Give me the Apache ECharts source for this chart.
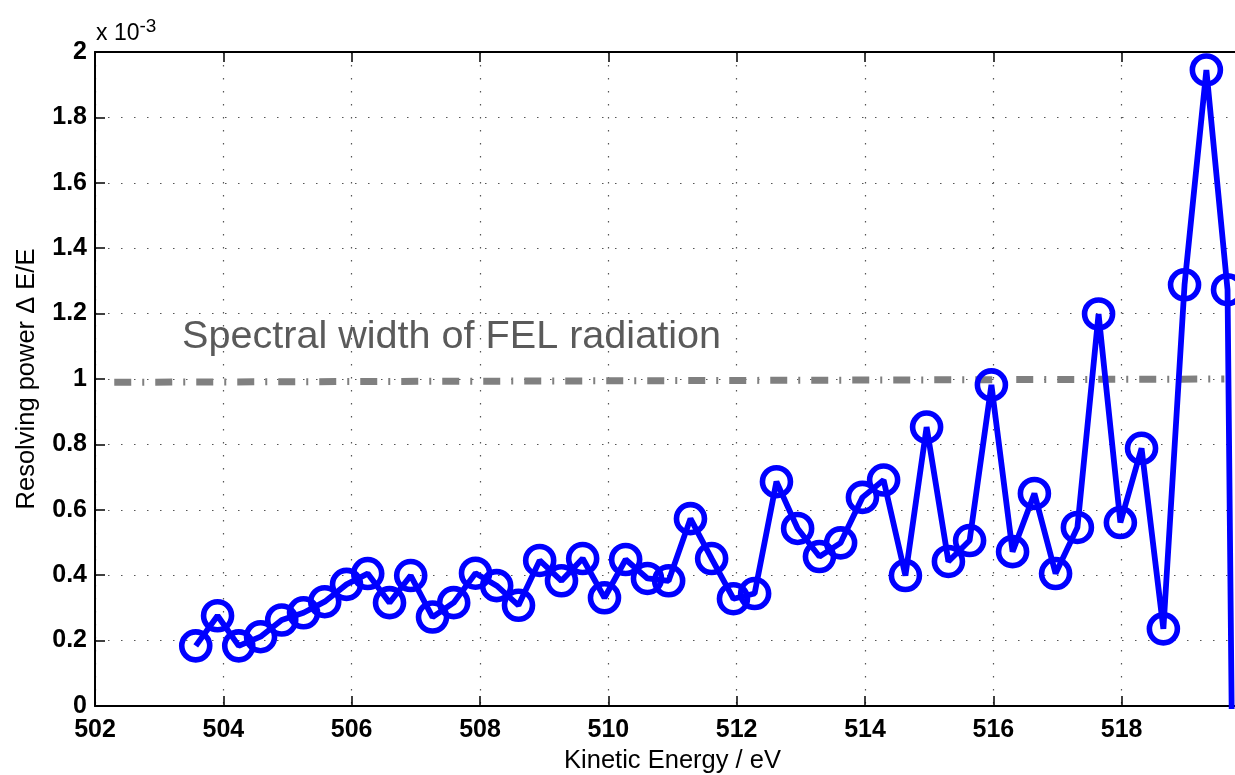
<!DOCTYPE html>
<html>
<head>
<meta charset="utf-8">
<script src="https://cdn.jsdelivr.net/npm/echarts@6/dist/echarts.min.js"></script>
<style>
  html, body { margin: 0; padding: 0; background: #fff; }
  #main { width: 1235px; height: 775px; }
</style>
</head>
<body>
<div id="main"></div>
<script>
// kinetic energy (eV) of each measured point
const energies = [
  503.57, 503.91, 504.24, 504.58, 504.91, 505.25, 505.58, 505.92, 506.25, 506.59,
  506.92, 507.26, 507.59, 507.93, 508.26, 508.60, 508.93, 509.27, 509.60, 509.94,
  510.27, 510.61, 510.94, 511.28, 511.61, 511.95, 512.28, 512.62, 512.95, 513.29,
  513.62, 513.96, 514.29, 514.63, 514.96, 515.30, 515.63, 515.97, 516.30, 516.64,
  516.97, 517.31, 517.64, 517.98, 518.31, 518.65, 518.98, 519.32, 519.65, 519.99
];
// resolving power dE/E, in units of 1e-3
const resolving = [
  0.184, 0.276, 0.184, 0.212, 0.263, 0.285, 0.319, 0.372, 0.405, 0.316,
  0.399, 0.272, 0.316, 0.406, 0.368, 0.308, 0.445, 0.383, 0.451, 0.331,
  0.448, 0.390, 0.383, 0.573, 0.451, 0.328, 0.344, 0.686, 0.543, 0.457,
  0.499, 0.638, 0.691, 0.399, 0.853, 0.442, 0.506, 0.982, 0.472, 0.650,
  0.405, 0.546, 1.199, 0.561, 0.788, 0.236, 1.288, 1.945, 1.273, -5.5
];
// spectral width of the FEL radiation (reference line)
const felX = [502.3, 519.6];
const felY = [0.99, 1.0];

const xTicks = { min: 502, max: 520, interval: 2 };
const yTicks = { min: 0, max: 2, interval: 0.2 };

const font = 'Liberation Sans, Arial, sans-serif';
const dotted = { color: '#555', width: 1.2, type: [1.5, 11.5] };

const chart = echarts.init(document.getElementById('main'));

const option = {
  animation: false,
  backgroundColor: '#fff',
  grid: { left: 95, top: 52, width: 1155, height: 654, outerBoundsMode: 'none', containLabel: false },
  xAxis: [
    {
      type: 'value',
      min: xTicks.min, max: xTicks.max, interval: xTicks.interval,
      name: 'Kinetic Energy / eV',
      nameLocation: 'middle',
      nameGap: 40,
      nameTextStyle: { fontFamily: font, fontSize: 25.5, color: '#000' },
      axisLine: { show: true, onZero: false, lineStyle: { color: '#000', width: 2 } },
      axisTick: { show: true, inside: true, length: 10, lineStyle: { color: '#000', width: 1.5 } },
      axisLabel: { fontFamily: font, fontSize: 25, fontWeight: 'bold', color: '#000', margin: 12, showMaxLabel: false },
      splitLine: { show: true, lineStyle: dotted }
    },
    {
      type: 'value', position: 'top',
      min: xTicks.min, max: xTicks.max, interval: xTicks.interval,
      axisLine: { show: true, onZero: false, lineStyle: { color: '#000', width: 2 } },
      axisTick: { show: true, inside: true, length: 10, lineStyle: { color: '#000', width: 1.5 } },
      axisLabel: { show: false },
      splitLine: { show: false }
    }
  ],
  yAxis: [
    {
      type: 'value',
      min: yTicks.min, max: yTicks.max, interval: yTicks.interval,
      name: 'Resolving power \u0394 E/E',
      nameLocation: 'middle',
      nameGap: 55,
      nameTextStyle: { fontFamily: font, fontSize: 25.5, color: '#000' },
      axisLine: { show: true, onZero: false, lineStyle: { color: '#000', width: 2 } },
      axisTick: { show: true, inside: true, length: 10, lineStyle: { color: '#000', width: 1.5 } },
      axisLabel: {
        fontFamily: font, fontSize: 25, fontWeight: 'bold', color: '#000', margin: 8,
        formatter: v => String(+v.toFixed(1))
      },
      splitLine: { show: true, lineStyle: dotted }
    },
    {
      type: 'value', position: 'right',
      min: yTicks.min, max: yTicks.max, interval: yTicks.interval,
      axisLine: { show: true, onZero: false, lineStyle: { color: '#000', width: 2 } },
      axisTick: { show: true, inside: true, length: 10 },
      axisLabel: { show: false },
      splitLine: { show: false }
    }
  ],
  graphic: [
    {
      type: 'text', left: 96, top: 17,
      style: {
        text: 'x 10{sup|-3}',
        fontFamily: font, fontSize: 23, fill: '#000',
        rich: { sup: { fontFamily: font, fontSize: 19, verticalAlign: 'top', padding: [0, 0, 14, 0] } }
      }
    },
    {
      type: 'text', left: 182, top: 317,
      style: { text: 'Spectral width of FEL radiation', fontFamily: font, fontSize: 39.6, fill: '#5a5a5a' }
    }
  ],
  series: [
    {
      type: 'line',
      data: felX.map((x, i) => [x, felY[i]]),
      symbol: 'none',
      lineStyle: { color: '#808080', width: 7, type: [17, 11, 2, 11] },
      z: 1
    },
    {
      type: 'line',
      data: energies.map((x, i) => [x, resolving[i]]),
      showAllSymbol: true,
      symbol: 'circle',
      symbolSize: 28,
      clip: true,
      lineStyle: { color: '#0000ff', width: 5.8 },
      itemStyle: { color: 'rgba(0,0,0,0)', borderColor: '#0000ff', borderWidth: 5.6 },
      z: 3
    }
  ]
};

chart.setOption(option);
</script>
</body>
</html>
